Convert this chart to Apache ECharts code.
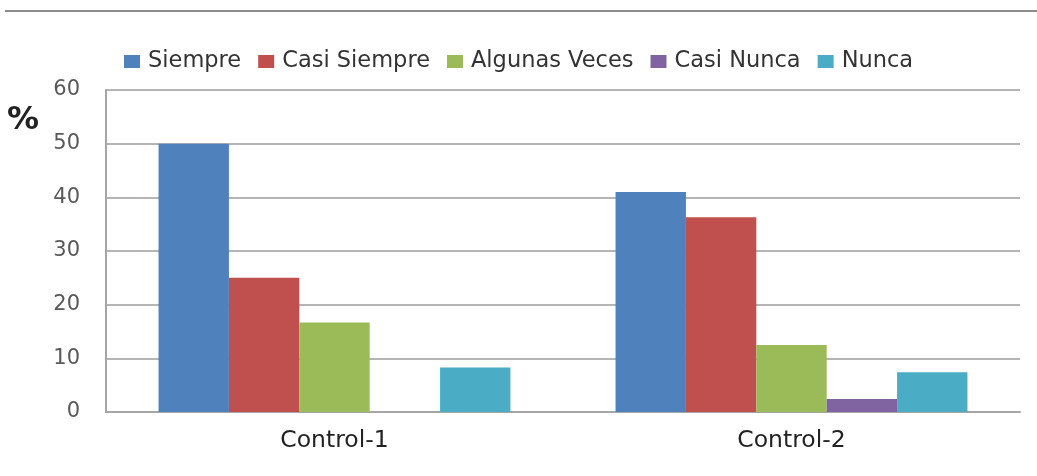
<!DOCTYPE html>
<html>
<head>
<meta charset="utf-8">
<script src="https://cdn.jsdelivr.net/npm/echarts@6/dist/echarts.min.js"></script>
<style>
    html, body { margin: 0; padding: 0; background: #fff; }
    #chart { width: 1037px; height: 476px; }
</style>
</head>
<body>
<div id="chart"></div>
<script>
    // categorias y series
    var categories = ['Control-1', 'Control-2'];
    var seriesNames = ['Siempre', 'Casi Siempre', 'Algunas Veces', 'Casi Nunca', 'Nunca'];
    var siempre = [50, 41];
    var casiSiempre = [25, 36.3];
    var algunasVeces = [16.7, 12.5];
    var casiNunca = [0, 2.4];
    var nunca = [8.3, 7.4];
    var colors = ['#4f81bd', '#c0504d', '#9bbb59', '#8064a2', '#4bacc6'];

    var values = [siempre, casiSiempre, algunasVeces, casiNunca, nunca];
    var font = 'DejaVu Sans';

    var myChart = echarts.init(document.getElementById('chart'));
    var option = {
        backgroundColor: '#fff',
        animation: false,
        color: colors,
        legend: {
            top: 45,
            left: 119,
            itemWidth: 16,
            itemHeight: 13,
            itemGap: 17,
            icon: 'rect',
            textStyle: {
                fontFamily: font,
                fontSize: 22.5,
                color: '#333',
                padding: [0, 0, 0, 3]
            },
            data: seriesNames
        },
        graphic: [
            {
                // linea superior
                type: 'line',
                shape: { x1: 5, y1: 11, x2: 1037, y2: 11 },
                style: { stroke: '#8c8c8c', lineWidth: 2 }
            },
            {
                type: 'text',
                left: 7,
                top: 105,
                style: {
                    text: '%',
                    fontFamily: font,
                    fontSize: 32,
                    fontWeight: 'bold',
                    fill: '#222'
                }
            }
        ],
        grid: {
            left: 106,
            right: 17,
            top: 90,
            bottom: 64
        },
        xAxis: {
            type: 'category',
            data: categories,
            axisTick: { show: false },
            axisLine: { lineStyle: { color: '#a6a6a6', width: 2 } },
            axisLabel: {
                margin: 17,
                fontFamily: font,
                fontSize: 23.5,
                color: '#222'
            }
        },
        yAxis: {
            type: 'value',
            min: 0,
            max: 60,
            interval: 10,
            axisLine: { show: true, lineStyle: { color: '#a6a6a6', width: 2 } },
            axisTick: { show: false },
            splitLine: { lineStyle: { color: '#b5b5b5', width: 2 } },
            axisLabel: {
                margin: 26,
                fontFamily: font,
                fontSize: 21,
                color: '#595959'
            }
        },
        series: seriesNames.map(function (name, i) {
            return {
                name: name,
                type: 'bar',
                barGap: '0%',
                barCategoryGap: '23%',
                data: values[i]
            };
        })
    };
    myChart.setOption(option);
</script>
</body>
</html>
